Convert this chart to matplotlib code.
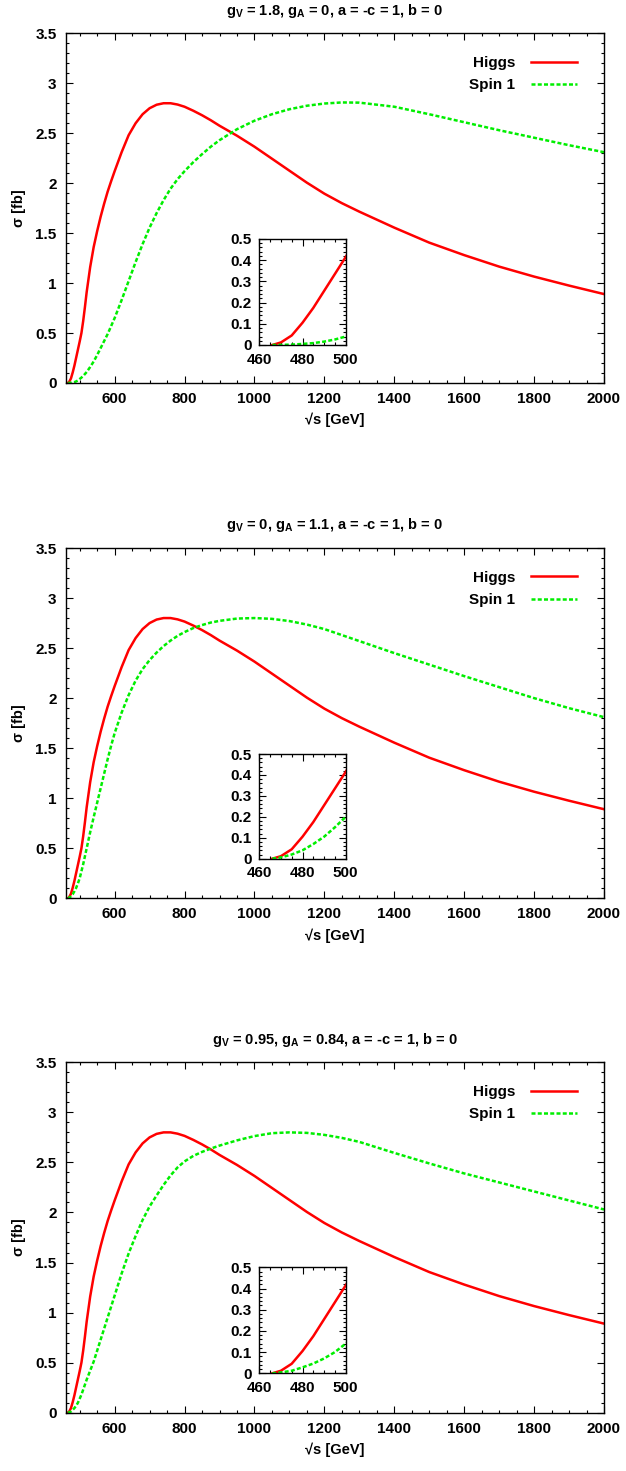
import matplotlib
matplotlib.use('Agg')
import matplotlib.pyplot as plt
from matplotlib.ticker import MultipleLocator, FuncFormatter

plt.rcParams['font.family'] = ['Liberation Sans', 'DejaVu Sans']
plt.rcParams['font.weight'] = 'bold'
plt.rcParams['mathtext.fontset'] = 'custom'
plt.rcParams['mathtext.rm'] = 'Liberation Sans:bold'
plt.rcParams['mathtext.it'] = 'Liberation Sans:bold'
plt.rcParams['mathtext.bf'] = 'Liberation Sans:bold'

# ---------------- data ----------------
sqrt_s = [466, 470, 475, 480, 485, 490, 495, 500, 505, 510, 515, 520, 530, 540, 550,
          560, 570, 580, 590, 600, 620, 640, 660, 680, 700, 720, 740, 760, 780, 800,
          825, 850, 875, 900, 950, 1000, 1050, 1100, 1150, 1200, 1250, 1300, 1400,
          1500, 1600, 1700, 1800, 1900, 2000]

higgs = [0.0, 0.012, 0.045, 0.105, 0.175, 0.255, 0.335, 0.415, 0.50, 0.62, 0.76, 0.91,
         1.16, 1.36, 1.52, 1.665, 1.795, 1.915, 2.02, 2.12, 2.31, 2.48, 2.60, 2.69, 2.75,
         2.785, 2.80, 2.80, 2.787, 2.765, 2.725, 2.68, 2.63, 2.575, 2.475, 2.365, 2.245,
         2.125, 2.005, 1.895, 1.80, 1.715, 1.555, 1.405, 1.28, 1.165, 1.065, 0.975, 0.89]

spin1_a = [0.0, 0.0005, 0.002, 0.005, 0.009, 0.016, 0.026, 0.04, 0.054, 0.07, 0.09, 0.11,
           0.16, 0.215, 0.28, 0.35, 0.42, 0.49, 0.57, 0.65, 0.83, 1.02, 1.21, 1.39, 1.555,
           1.70, 1.83, 1.945, 2.04, 2.12, 2.21, 2.29, 2.365, 2.43, 2.54, 2.625, 2.69, 2.74,
           2.775, 2.797, 2.808, 2.806, 2.765, 2.69, 2.61, 2.53, 2.455, 2.38, 2.31]

spin1_b = [0.0, 0.006, 0.02, 0.04, 0.07, 0.105, 0.15, 0.20, 0.27, 0.34, 0.42, 0.50, 0.66,
           0.81, 0.955, 1.10, 1.245, 1.39, 1.525, 1.65, 1.855, 2.03, 2.175, 2.29, 2.38,
           2.455, 2.52, 2.575, 2.622, 2.66, 2.70, 2.73, 2.755, 2.772, 2.795, 2.80, 2.792,
           2.77, 2.735, 2.69, 2.63, 2.57, 2.45, 2.335, 2.22, 2.11, 2.00, 1.90, 1.81]

spin1_c = [0.0, 0.004, 0.012, 0.028, 0.046, 0.07, 0.10, 0.14, 0.18, 0.23, 0.28, 0.33,
           0.42, 0.51, 0.62, 0.73, 0.84, 0.95, 1.06, 1.17, 1.39, 1.59, 1.765, 1.925, 2.06,
           2.17, 2.275, 2.37, 2.45, 2.51, 2.565, 2.605, 2.638, 2.668, 2.72, 2.763, 2.792,
           2.80, 2.795, 2.775, 2.745, 2.705, 2.595, 2.49, 2.39, 2.30, 2.21, 2.12, 2.03]

titles = [r'g$_{V}$ = 1.8, g$_{A}$ = 0, a = -c = 1, b = 0',
          r'g$_{V}$ = 0, g$_{A}$ = 1.1, a = -c = 1, b = 0',
          r'g$_{V}$ = 0.95, g$_{A}$ = 0.84, a = -c = 1, b = 0']
spin1_sets = [spin1_a, spin1_b, spin1_c]
legend_labels = ['Higgs', 'Spin 1']

# ---------------- layout ----------------
W, H = 626, 1471
fig = plt.figure(figsize=(W / 100, H / 100), dpi=100)

def rect(left, right, top, bottom):
    return [left / W, 1 - bottom / H, (right - left) / W, (bottom - top) / H]

main_tops = [33.3, 548.0, 1062.3]
main_bottoms = [383.0, 898.3, 1412.7]
inset_tops = [239.0, 754.0, 1267.3]
inset_bottoms = [345.0, 858.7, 1373.3]
M_LEFT, M_RIGHT = 65.7, 604.0
I_LEFT, I_RIGHT = 259.3, 345.7

RED = '#ff0000'
GREEN = '#00ee00'
FS = 10.5
TFS = 11
fmt = FuncFormatter(lambda v, p: f'{v:g}')

def style_axes(ax, xmaj, xmin, ymaj, ymin, pad):
    ax.xaxis.set_major_locator(MultipleLocator(xmaj))
    ax.xaxis.set_minor_locator(MultipleLocator(xmin))
    ax.yaxis.set_major_locator(MultipleLocator(ymaj))
    ax.yaxis.set_minor_locator(MultipleLocator(ymin))
    ax.xaxis.set_major_formatter(fmt)
    ax.yaxis.set_major_formatter(fmt)
    ax.tick_params(which='both', direction='in', top=True, right=True,
                   labelsize=TFS, width=0.8, pad=pad)
    ax.tick_params(which='major', length=5)
    ax.tick_params(which='minor', length=2.5)
    for sp in ax.spines.values():
        sp.set_linewidth(1.0)
    for lab in ax.get_xticklabels() + ax.get_yticklabels():
        lab.set_fontweight('bold')

dash = (0, (1.6, 0.9))

for i in range(3):
    ax = fig.add_axes(rect(M_LEFT, M_RIGHT, main_tops[i], main_bottoms[i]))
    ax.plot(sqrt_s, higgs, color=RED, lw=1.8, label=legend_labels[0])
    ax.plot(sqrt_s, spin1_sets[i], color=GREEN, lw=1.8, linestyle=dash,
            label=legend_labels[1])
    ax.set_xlim(460, 2000)
    ax.set_ylim(0, 3.5)
    style_axes(ax, 200, 50, 0.5, 0.1, 6.5)
    ax.set_xticks([600, 800, 1000, 1200, 1400, 1600, 1800, 2000])
    ax.set_xlabel('√s [GeV]', fontsize=FS, fontweight='bold', labelpad=5)
    ax.set_ylabel('σ [fb]', fontsize=FS, fontweight='bold', labelpad=7)
    leg = ax.legend(loc='upper right', bbox_to_anchor=(0.949, 0.935),
                    frameon=False, markerfirst=False, fontsize=11,
                    handlelength=3.0, handletextpad=1.0, labelspacing=0.55,
                    borderpad=0, borderaxespad=0)
    for t in leg.get_texts():
        t.set_fontweight('bold')
    fig.text((M_LEFT + M_RIGHT) / 2 / W, 1 - (main_tops[i] - 22.5) / H, titles[i],
             ha='center', va='center', fontsize=FS, fontweight='bold')

    ins = fig.add_axes(rect(I_LEFT, I_RIGHT, inset_tops[i], inset_bottoms[i]))
    ins.set_facecolor('white')
    ins.plot(sqrt_s, higgs, color=RED, lw=1.8)
    ins.plot(sqrt_s, spin1_sets[i], color=GREEN, lw=1.8, linestyle=dash)
    ins.set_xlim(460, 500)
    ins.set_ylim(0, 0.5)
    style_axes(ins, 20, 5, 0.1, 0.02, 5.5)

fig.savefig('out.png', dpi=100)
